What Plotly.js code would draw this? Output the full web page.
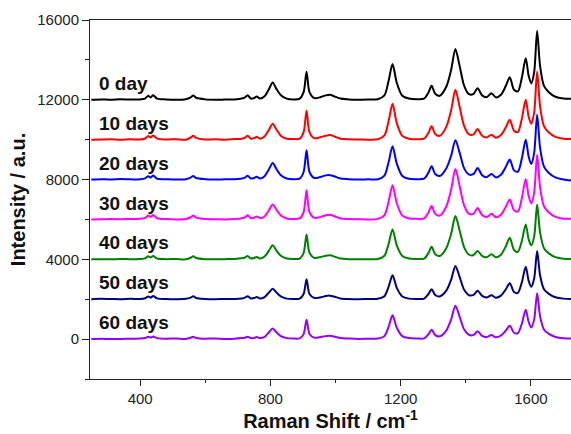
<!DOCTYPE html>
<html>
<head>
<meta charset="utf-8">
<script src="https://cdn.plot.ly/plotly-3.0.1.min.js"></script>
<style>html,body{margin:0;padding:0;background:#fff;}#chart{width:571px;height:434px;}</style>
</head>
<body>
<div id="chart"></div>
<script>
// Raman shift (cm^-1) sample positions
const ramanShift = [
  250, 280, 310, 340, 370, 400, 415, 425, 432, 440,
  452, 480, 510, 540, 555, 563, 572, 600, 630, 660,
  690, 712, 722, 730, 740, 750, 758, 768, 782, 795,
  807, 818, 832, 850, 870, 890, 902, 911, 920, 935,
  955, 970, 983, 998, 1015, 1040, 1070, 1100, 1130, 1150,
  1163, 1175, 1188, 1205, 1225, 1250, 1272, 1285, 1295, 1306,
  1320, 1340, 1355, 1368, 1381, 1395, 1410, 1424, 1436, 1450,
  1464, 1479, 1492, 1508, 1523, 1535, 1548, 1560, 1572, 1584,
  1593, 1601, 1610, 1619, 1628, 1640, 1655, 1675, 1700, 1723
];

// Series labels, vertical offsets and colours
const seriesNames = ["0 day", "10 days", "20 days", "30 days", "40 days", "50 days", "60 days"];
const offsets = [12000, 10000, 8000, 6000, 4000, 2000, 0];
const colors = ["#000000", "#ff0000", "#0000ff", "#ff00ff", "#008000", "#000080", "#9400ff"];

// Intensities (a.u.) above each trace's baseline
const day0 = [
  0, 20, 0, 30, 10, 20, 60, 200, 120, 230,
  60, 20, 0, 30, 120, 220, 100, 20, 0, 10,
  20, 60, 120, 230, 60, 90, 160, 60, 180, 520,
  870, 560, 230, 60, 20, 60, 380, 1400, 380, 80,
  140, 220, 250, 160, 60, 20, 0, 10, 30, 220,
  950, 1800, 850, 200, 60, 30, 60, 350, 700, 300,
  200, 650, 1500, 2550, 1700, 700, 280, 300, 580, 220,
  130, 330, 120, 250, 700, 1130, 500, 420, 1100, 2080,
  1200, 820, 1400, 3450, 1700, 700, 380, 150, 60, 50
];
const day10 = [
  0, 10, 20, 0, 20, 10, 60, 180, 110, 210,
  50, 10, 20, 0, 100, 200, 90, 10, 20, 0,
  30, 50, 100, 200, 50, 80, 140, 50, 160, 480,
  800, 520, 200, 50, 30, 50, 380, 1450, 380, 70,
  130, 200, 230, 150, 50, 20, 10, 0, 20, 210,
  930, 1800, 830, 190, 50, 20, 50, 330, 670, 280,
  190, 640, 1480, 2500, 1650, 680, 260, 270, 530, 200,
  110, 250, 100, 230, 620, 1000, 450, 380, 1050, 2000,
  1150, 800, 1380, 3420, 1680, 680, 360, 140, 50, 40
];
const day20 = [
  0, 20, 0, 30, 10, 20, 60, 170, 100, 200,
  40, 20, 0, 20, 100, 180, 80, 20, 0, 10,
  20, 50, 100, 190, 50, 80, 140, 50, 170, 500,
  830, 540, 210, 50, 20, 50, 380, 1470, 380, 80,
  140, 210, 220, 150, 50, 20, 0, 10, 20, 200,
  880, 1670, 800, 180, 40, 20, 50, 340, 670, 280,
  180, 560, 1200, 1970, 1350, 560, 250, 280, 580, 220,
  120, 280, 110, 240, 640, 1000, 460, 400, 1050, 2000,
  1150, 780, 1350, 3250, 1600, 650, 330, 110, 0, -50
];
const day30 = [
  0, 10, 20, 10, 20, 30, 80, 200, 120, 220,
  60, 20, 0, 20, 110, 200, 90, 20, 10, 0,
  20, 60, 110, 210, 60, 90, 150, 60, 150, 450,
  750, 500, 200, 50, 20, 50, 370, 1470, 370, 80,
  130, 210, 230, 150, 50, 20, 10, 0, 30, 210,
  900, 1720, 820, 190, 50, 30, 50, 340, 670, 280,
  190, 650, 1500, 2530, 1680, 690, 280, 290, 580, 220,
  120, 280, 110, 240, 640, 1000, 460, 400, 1060, 2030,
  1170, 800, 1360, 3250, 1620, 660, 350, 130, 40, 30
];
const day40 = [
  0, 10, 0, 20, 10, 20, 50, 150, 90, 170,
  40, 10, 20, 0, 80, 160, 70, 10, 0, 10,
  20, 50, 90, 170, 40, 70, 120, 40, 140, 420,
  700, 450, 180, 40, 20, 40, 320, 1250, 330, 70,
  120, 180, 200, 130, 40, 10, 0, 10, 20, 180,
  780, 1500, 700, 170, 40, 20, 40, 310, 630, 260,
  170, 560, 1280, 2170, 1450, 600, 230, 220, 420, 170,
  100, 250, 100, 230, 660, 1080, 470, 380, 920, 1750,
  1000, 700, 1150, 2750, 1350, 560, 300, 110, 30, 20
];
const day50 = [
  0, 20, 10, 0, 20, 10, 50, 140, 80, 160,
  40, 10, 0, 20, 80, 150, 60, 10, 0, 10,
  10, 40, 80, 150, 40, 60, 110, 40, 110, 330,
  530, 350, 140, 30, 10, 30, 260, 1000, 260, 60,
  100, 160, 180, 120, 40, 10, 0, 10, 20, 150,
  630, 1200, 570, 140, 30, 10, 30, 250, 500, 210,
  140, 430, 980, 1670, 1120, 470, 200, 220, 420, 170,
  90, 200, 80, 180, 500, 800, 360, 320, 850, 1630,
  920, 620, 1050, 2420, 1200, 500, 270, 100, 30, 10
];
const day60 = [
  0, 20, 0, 10, 20, 30, 60, 120, 80, 130,
  50, 20, 30, 10, 70, 120, 60, 20, 30, 10,
  20, 50, 70, 120, 50, 60, 100, 50, 110, 330,
  530, 350, 150, 50, 30, 40, 250, 970, 260, 70,
  110, 150, 170, 120, 50, 30, 10, 20, 30, 150,
  620, 1200, 570, 150, 50, 30, 40, 240, 470, 200,
  140, 430, 990, 1670, 1130, 480, 210, 210, 400, 160,
  100, 200, 90, 180, 430, 670, 320, 300, 770, 1470,
  860, 580, 1000, 2300, 1150, 480, 260, 110, 40, 30
];
const seriesValues = [day0, day10, day20, day30, day40, day50, day60];

// Axis ticks
const xTickVals = [400, 800, 1200, 1600];
const yTickVals = [0, 4000, 8000, 12000, 16000];

seriesValues.forEach((s, i) => {
  if (s.length !== ramanShift.length) throw new Error("length mismatch in " + seriesNames[i] + ": " + s.length);
});

const traces = seriesValues.map((vals, i) => ({
  type: "scatter",
  mode: "lines",
  x: ramanShift,
  y: vals.map(v => v + offsets[i]),
  name: seriesNames[i],
  line: {color: colors[i], width: 2, shape: "spline", smoothing: 0.8},
  hoverinfo: "skip"
}));

const annotations = seriesNames.map((n, i) => ({
  text: n,
  x: 268, y: offsets[i] + 820,
  xref: "x", yref: "y",
  xanchor: "left", yanchor: "middle",
  showarrow: false,
  font: {family: "Liberation Sans, Arial, sans-serif", size: 19, color: "#111", weight: "bold"}
}));

const tickFont = {family: "Liberation Sans, Arial, sans-serif", size: 15, color: "#222"};
const titleFont = {family: "Liberation Sans, Arial, sans-serif", size: 20, color: "#111", weight: "bold"};

const layout = {
  width: 571, height: 434,
  margin: {l: 90, r: 0, t: 20, b: 55},
  paper_bgcolor: "#fff", plot_bgcolor: "#fff",
  showlegend: false,
  xaxis: {
    range: [246, 1723],
    tickvals: xTickVals,
    ticktext: xTickVals.map(String),
    ticks: "outside", ticklen: 6, tickwidth: 1, tickcolor: "#222",
    minor: {dtick: 200, tick0: 0, ticks: "outside", ticklen: 3, tickcolor: "#222", showgrid: false},
    showline: true, linecolor: "#222", linewidth: 1, mirror: true,
    showgrid: false, zeroline: false,
    tickfont: tickFont,
    title: {text: "Raman Shift / cm<sup>-1</sup>", font: titleFont, standoff: 6}
  },
  yaxis: {
    range: [-2000, 16000],
    tickvals: yTickVals,
    ticktext: yTickVals.map(String),
    ticks: "outside", ticklen: 7, tickwidth: 1, tickcolor: "#222",
    minor: {dtick: 2000, tick0: 0, ticks: "outside", ticklen: 4, tickcolor: "#222", showgrid: false},
    showline: true, linecolor: "#222", linewidth: 1, mirror: false,
    showgrid: false, zeroline: false,
    tickfont: tickFont,
    title: {text: "Intensity / a.u.", font: titleFont, standoff: 6}
  },
  annotations: annotations
};

Plotly.newPlot("chart", traces, layout, {staticPlot: true, displayModeBar: false});
</script>
</body>
</html>
